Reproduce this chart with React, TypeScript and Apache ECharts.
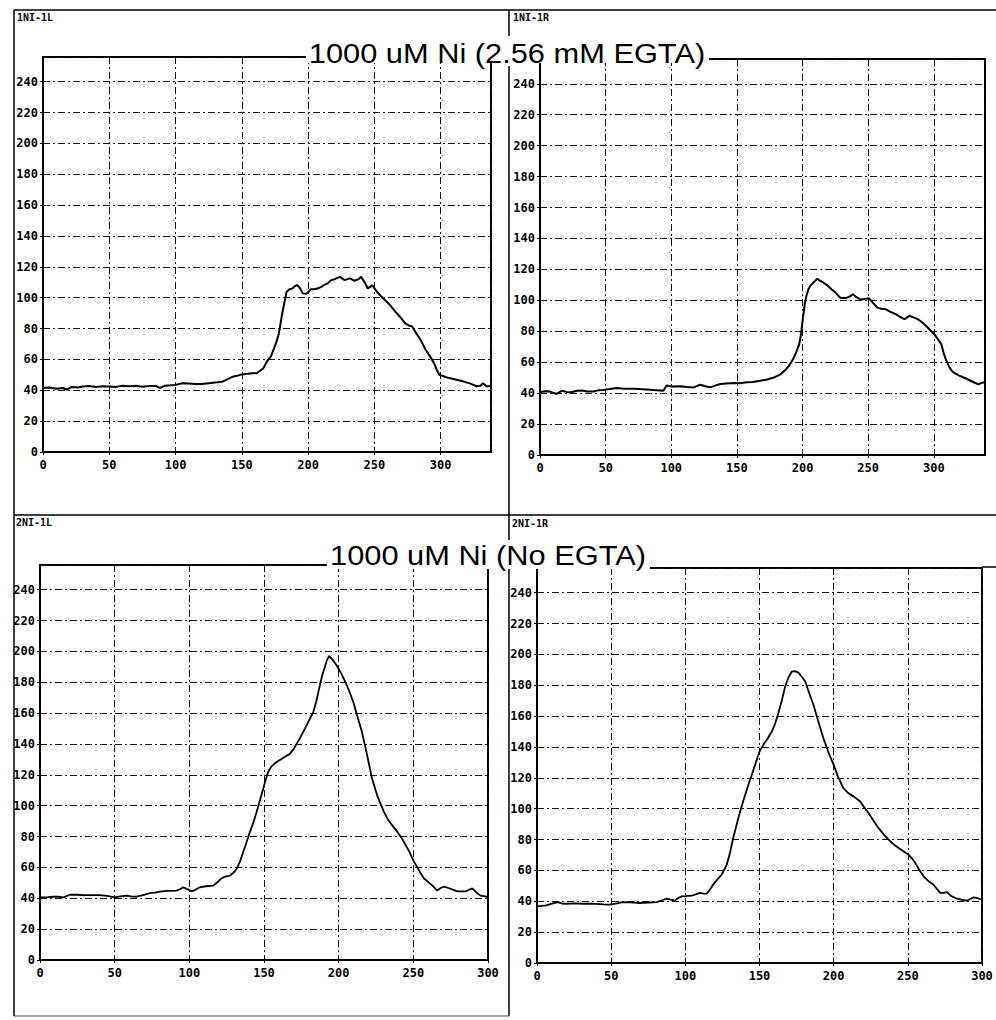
import React, { useEffect, useRef } from "react";
import * as echarts from "echarts";

// Panel 1NI-1L : 1000 uM Ni (2.56 mM EGTA), left
const tlX = [0, 5, 10, 15, 18, 22, 26, 30, 35, 40, 45, 50, 55, 60, 65, 70, 75, 80, 85, 88, 92, 96, 100, 105, 110, 115, 120, 125, 130, 135, 138.5, 143.7, 147, 150, 156, 161.5, 166, 169, 172, 174, 176, 178, 180.5, 183.8, 186, 188, 190, 192, 194, 196, 198.3, 200, 202, 205, 207, 210, 212, 215, 217.4, 220, 224, 227.6, 231.5, 235, 238, 240, 243, 245, 248.5, 251.8, 255, 258, 262, 265.8, 270, 273.4, 276, 278.5, 282.3, 285, 288.7, 292, 295, 297, 299, 303, 306.5, 312, 316.7, 322, 327, 330, 332, 335, 338];
const tlY = [41.5, 41.8, 41, 41.5, 40.5, 42.2, 41.8, 42.5, 42.8, 42.2, 42.6, 42.5, 42.2, 43, 42.6, 43, 42.3, 42.8, 42.8, 41.5, 43, 43.2, 43.5, 44.6, 44.4, 44, 44, 44.5, 45, 45.5, 46.9, 49, 49.5, 50.3, 50.8, 51.2, 54, 58.7, 62, 66.5, 71, 77, 89.9, 103.9, 105.5, 106, 107.5, 108.2, 106, 102.8, 102.5, 103.5, 105.4, 105.5, 106, 107, 108.2, 109.5, 111.4, 112, 113.5, 111.4, 112.5, 111, 112, 113.5, 109.5, 106, 108, 104, 101, 98.5, 95, 91, 87, 83.4, 82, 81.3, 76, 72.5, 66.3, 62, 57.6, 53.5, 50.1, 48.8, 47.9, 46.8, 45.8, 44.5, 42.6, 43, 44.5, 42.5, 43];

// Panel 1NI-1R : 1000 uM Ni (2.56 mM EGTA), right
const trX = [0, 4, 7.6, 10, 12.7, 16.5, 20, 24, 28, 31.8, 36, 40.7, 44, 48.3, 52, 58.5, 64, 71.2, 78, 86.4, 94, 96.6, 100, 106.8, 112, 117, 122, 126, 129.7, 134, 137.3, 142, 147.4, 152, 157.6, 162, 167.8, 173, 178.8, 183, 186.5, 190, 192.8, 195, 197.5, 199, 200, 201, 201.8, 203, 204.4, 206, 208.2, 211.3, 213.5, 216, 219, 222.3, 225, 228.8, 231, 233.8, 236, 238.5, 241, 244, 247, 250.5, 253, 257, 260, 263.4, 267, 271, 274, 277.5, 279, 281.3, 284.5, 287.7, 291, 294, 297, 300.5, 303, 305.7, 307.5, 309.5, 312, 314.6, 319, 323.6, 328, 333.8, 336, 339];
const trY = [40.6, 41.2, 41, 40.2, 39.5, 41.5, 40.8, 40.6, 41.5, 41.7, 41, 41, 41.8, 42, 42.5, 43.3, 42.8, 42.8, 42.5, 42, 41.5, 45, 44.3, 44.4, 44, 43.7, 45.4, 44.5, 43.7, 45, 45.9, 46.2, 46.5, 46.4, 47, 47.2, 48, 48.8, 50.3, 52, 54.6, 58, 62, 66, 71.7, 79, 86.7, 93, 98.5, 103, 107, 109.5, 111.4, 114, 112.5, 111.4, 109.5, 107, 105, 101.7, 101.5, 101.7, 102.5, 103.9, 102, 100.6, 100.8, 101.3, 99, 95.3, 94.5, 94.2, 92.5, 91, 89.5, 87.8, 88.5, 90, 89, 87.8, 85.8, 83.5, 81, 78, 75, 71.7, 66, 61, 56.5, 53.5, 51.5, 49.8, 48, 45.6, 46.5, 47];

// Panel 2NI-1L : 1000 uM Ni (No EGTA), left
const blX = [0, 5, 9, 12, 15.6, 20, 25, 29, 35, 40, 45, 50, 54, 58, 61, 64.7, 69, 73.6, 77, 80.3, 85, 91.5, 94, 96, 98.5, 101.5, 104, 107, 111, 116, 119, 121.6, 124, 127.2, 130, 131.7, 134, 136, 138, 140.5, 143, 145, 147, 149.5, 151, 152.8, 155, 158.4, 162, 167.3, 170, 171.8, 174.5, 177.4, 180, 183, 185, 187.4, 189, 190.8, 192, 193.6, 196, 198.6, 201, 204, 207, 209.8, 212.5, 215.6, 219, 222.4, 226, 230.4, 233, 236, 239, 241.8, 244.5, 247.5, 250, 252.6, 255, 257, 260, 263, 266, 268, 270.5, 274, 279.5, 285, 289.5, 292, 295, 299, 300];
const blY = [40.6, 40.8, 41, 41, 40.6, 42.3, 42.3, 42.1, 42, 42.1, 41.5, 40.6, 41.3, 41.7, 41.3, 41, 42, 43.4, 43.6, 44.3, 44.8, 45, 46, 47.1, 46, 44.5, 45.5, 47.1, 47.8, 48.2, 50.5, 53, 54, 54.7, 57, 59, 64, 69.8, 75.5, 82.8, 89.5, 95.8, 102.5, 111, 116.5, 121.8, 125.5, 128.3, 130.5, 133.6, 137, 140, 144.5, 149.9, 155, 160.7, 167.5, 178, 184.5, 190, 194, 197, 194.5, 191, 187, 181.2, 174.5, 167.2, 158, 147.7, 133, 117.4, 106, 95.8, 91, 87.1, 83.5, 79.6, 75, 69.9, 64.5, 60.1, 56, 53, 50.5, 48, 45, 46.5, 47.5, 46.5, 44.5, 44.5, 46.5, 44, 41.7, 41, 41];

// Panel 2NI-1R : 1000 uM Ni (No EGTA), right
const brX = [0, 1.8, 6.3, 10, 14.2, 17, 19.8, 25, 31, 35, 40, 45, 49, 53, 58, 63, 69.3, 75, 80.6, 84, 87.4, 90, 93, 95, 97.5, 100, 104.3, 107, 109.9, 112, 114.4, 116.5, 118.8, 121.5, 124.5, 127.9, 130, 132.3, 134.5, 136.9, 139.5, 142.5, 145.5, 148.1, 150, 152.6, 155.5, 158.3, 160.5, 162.7, 165, 167.3, 169.5, 171.8, 174, 176.2, 178.5, 180.8, 183.5, 186.4, 189.5, 193.1, 196.5, 200, 203, 206.6, 210, 213.4, 217.9, 220.5, 223.5, 227, 230.3, 234, 238.2, 241, 243.8, 247, 250.5, 253, 255, 258, 260.6, 264, 267.4, 270, 271.9, 274, 276.4, 279, 282, 286, 290, 292, 294.4, 297, 300];
const brY = [37, 36.8, 37.4, 38.5, 39.4, 38.5, 38.4, 38.6, 38.4, 38.5, 38.3, 38, 37.8, 38.5, 39.5, 39.3, 38.9, 39.2, 39.5, 40.5, 41.7, 41, 40.4, 42, 43.2, 43.3, 43.6, 44.5, 45.4, 45, 44.9, 47.5, 50.8, 54, 57.2, 63.7, 71, 81, 89.5, 98.2, 106.5, 115.5, 124, 131.6, 137, 141.4, 145.5, 150, 155, 161.9, 170, 179.2, 185, 188.9, 189.2, 188.2, 185.5, 182.4, 175, 167.2, 157, 145.7, 136.5, 128.4, 120.5, 113.3, 110, 108, 104.7, 101, 97.2, 92, 87.4, 83, 78.8, 76.5, 74.5, 72.5, 70.2, 67.5, 64.8, 60, 56.2, 53, 50.7, 47.5, 45.4, 45.5, 46, 43.5, 42.1, 41, 40.4, 41.5, 42.6, 42, 41];

const xMaxes = [338, 339, 300, 300];
const yMax = 256;
const panelLabels = ["1NI-1L", "1NI-1R", "2NI-1L", "2NI-1R"];
const titleTop = "1000 uM Ni (2.56 mM EGTA)";
const titleBottom = "1000 uM Ni (No EGTA)";

const pairs = (xs: number[], ys: number[]) => xs.map((x, i) => [x, ys[i]]);

const grids = [
  { left: 43, top: 57, width: 448, height: 395 },
  { left: 540, top: 59, width: 445, height: 396 },
  { left: 40, top: 565, width: 448, height: 395 },
  { left: 537, top: 568, width: 445, height: 395 },
];

const tickFont = {
  fontFamily: "DejaVu Sans Mono",
  fontWeight: "bold" as const,
  fontSize: 12,
  color: "#000",
};

const gridLine = {
  show: true,
  lineStyle: { color: "#111", width: 1, type: [7, 3, 2, 3] as any },
};

const frameLine = (x1: number, y1: number, x2: number, y2: number, w = 1.5, c = "#000") => ({
  type: "line",
  z: 50,
  silent: true,
  shape: { x1, y1, x2, y2 },
  style: { stroke: c, lineWidth: w },
});

const titleText = (text: string, x: number, y: number) => ({
  type: "text",
  z: 101,
  x,
  y,
  scaleX: 1.1,
  silent: true,
  style: {
    text,
    x: 0,
    y: 0,
    fontFamily: "Liberation Sans",
    fontSize: 28,
    fill: "#000",
    textAlign: "center",
    align: "center",
    textVerticalAlign: "middle",
    verticalAlign: "middle",
  },
});

export default function App() {
  const ref = useRef<HTMLDivElement>(null);
  useEffect(() => {
    const chart = echarts.init(ref.current!, null, { renderer: "svg" });
    const seriesData = [pairs(tlX, tlY), pairs(trX, trY), pairs(blX, blY), pairs(brX, brY)];
    const labelPos = [
      [17, 12],
      [513, 12],
      [16, 517],
      [512, 518],
    ];
    const option: any = {
      animation: false,
      backgroundColor: "#fff",
      grid: grids.map((g) => ({
        ...g,
        show: true,
        borderColor: "#000",
        borderWidth: 2,
        backgroundColor: "transparent",
        containLabel: false,
      })),
      xAxis: grids.map((_, i) => ({
        type: "value",
        gridIndex: i,
        min: 0,
        max: xMaxes[i],
        interval: 50,
        axisLine: { show: true, lineStyle: { color: "#000", width: 2 } },
        axisTick: { show: true, length: 3, lineStyle: { color: "#000" } },
        axisLabel: { ...tickFont, margin: 7, showMaxLabel: xMaxes[i] % 50 === 0 },
        splitLine: gridLine,
      })),
      yAxis: grids.map((_, i) => ({
        type: "value",
        gridIndex: i,
        min: 0,
        max: yMax,
        interval: 20,
        axisLine: { show: true, lineStyle: { color: "#000", width: 2 } },
        axisTick: { show: true, length: 3, lineStyle: { color: "#000" } },
        axisLabel: { ...tickFont, margin: 5, showMaxLabel: false },
        splitLine: gridLine,
      })),
      series: seriesData.map((d, i) => ({
        type: "line",
        xAxisIndex: i,
        yAxisIndex: i,
        data: d,
        showSymbol: false,
        symbol: "none",
        silent: true,
        z: 5,
        lineStyle: { color: "#000", width: i < 2 ? 2 : 1.8 },
      })),
      graphic: [
        frameLine(14, 10, 996, 10),
        frameLine(14, 10, 14, 1016),
        frameLine(509, 10, 509, 36),
        frameLine(509, 66, 509, 542),
        frameLine(509, 569, 509, 1016),
        frameLine(14, 515, 996, 515),
        frameLine(14, 1016, 509, 1016, 1, "#444"),
        frameLine(982, 567, 996, 567),
        { type: "rect", z: 100, silent: true, shape: { x: 306, y: 38, width: 403, height: 25 }, style: { fill: "#fff" } },
        titleText(titleTop, 507, 53),
        { type: "rect", z: 100, silent: true, shape: { x: 327, y: 540, width: 323, height: 29 }, style: { fill: "#fff" } },
        titleText(titleBottom, 488, 555),
        ...panelLabels.map((t, i) => ({
          type: "text",
          z: 101,
          silent: true,
          x: labelPos[i][0],
          y: labelPos[i][1],
          style: {
            text: t,
            x: 0,
            y: 0,
            fontFamily: "DejaVu Sans Mono",
            fontWeight: "bold",
            fontSize: 10,
            fill: "#000",
            textAlign: "left",
            align: "left",
            textVerticalAlign: "top",
            verticalAlign: "top",
          },
        })),
      ],
    };
    chart.setOption(option);
    return () => chart.dispose();
  }, []);
  return (
    <div
      ref={ref}
      style={{ position: "absolute", left: 0, top: 0, width: 996, height: 1020, background: "#fff" }}
    />
  );
}
